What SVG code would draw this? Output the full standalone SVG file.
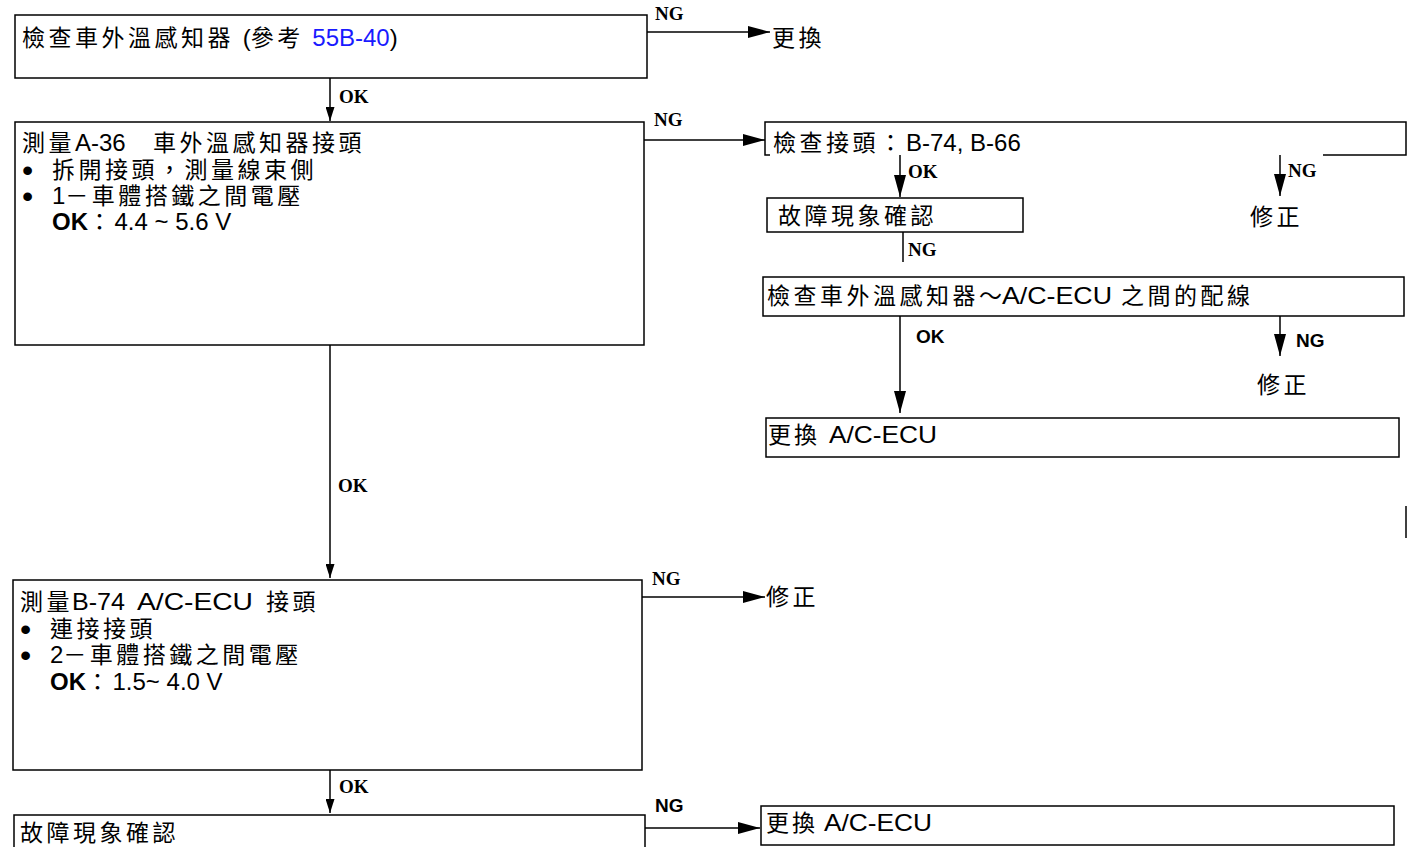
<svg xmlns="http://www.w3.org/2000/svg" width="1420" height="847" viewBox="0 0 1420 847">
<style>
.bx{fill:none;stroke:#000;stroke-width:1.5}
.ln{fill:none;stroke:#000;stroke-width:1.5}
.t{font-family:"Noto Sans CJK TC","Liberation Sans",sans-serif;font-size:23px;letter-spacing:3.5px;fill:#000}
.la{font-family:"Liberation Sans",Arial,sans-serif;font-size:24px;letter-spacing:0;fill:#000}
.lb{font-family:"Liberation Sans",Arial,sans-serif;font-size:24px;font-weight:bold;letter-spacing:0}
.bu{font-family:"Liberation Sans",Arial,sans-serif;font-size:32px;fill:#000}
.lk{fill:#1a1aff}
.sg{font-family:"Liberation Serif","Times New Roman",serif;font-size:19px;font-weight:bold;fill:#000}
.ss{font-family:"Liberation Sans",Arial,sans-serif;font-size:19px;font-weight:bold;fill:#000}
</style>
<defs>
<marker id="ah" viewBox="0 0 22 12" markerWidth="22" markerHeight="12" refX="22" refY="6" orient="auto" markerUnits="userSpaceOnUse"><path d="M0,0 L22,6 L0,12 z" fill="#000"/></marker>
<marker id="ahs" viewBox="0 0 14 9" markerWidth="14" markerHeight="9" refX="14" refY="4.5" orient="auto" markerUnits="userSpaceOnUse"><path d="M0,0 L14,4.5 L0,9 z" fill="#000"/></marker>
</defs>
<rect width="1420" height="847" fill="#fff"/>

<g id="n1">
<rect class="bx" x="15" y="15" width="632" height="63"/>
<text class="t" x="22" y="46">檢查車外溫感知器 <tspan class="la">(</tspan>參考 <tspan class="la lk">55B-40</tspan><tspan class="la">)</tspan></text>
</g>
<g id="n1ng"><text class="t" x="772" y="46">更換</text></g>

<g id="n2">
<rect class="bx" x="15" y="122" width="629" height="223"/>
<text class="t" x="22" y="151">測量<tspan class="la" x="75">A-36</tspan><tspan x="153">車外溫感知器接頭</tspan></text>
<text class="bu" x="22" y="181">•</text>
<text class="t" x="52" y="178">拆開接頭，測量線束側</text>
<text class="bu" x="22" y="207">•</text>
<text class="t" x="52" y="204"><tspan class="la">1</tspan>－車體搭鐵之間電壓</text>
<text class="t" x="52" y="230"><tspan class="lb">OK</tspan>：<tspan class="la">4.4 ~ 5.6 V</tspan></text>
</g>

<g id="n3">
<path class="bx" d="M770,155 L765,155 L765,122 L1406,122 L1406,155 L1323,155"/>
<text class="t" x="773" y="151">檢查接頭：<tspan class="la" x="906">B-74, B-66</tspan></text>
</g>
<g id="n3ng"><text class="t" x="1250" y="225">修正</text></g>

<g id="n4">
<rect class="bx" x="767" y="198" width="256" height="34"/>
<text class="t" x="778" y="224">故障現象確認</text>
</g>

<g id="n5">
<rect class="bx" x="763" y="277" width="641" height="39"/>
<text class="t" x="767" y="304">檢查車外溫感知器～<tspan class="la" x="1002" textLength="110" lengthAdjust="spacingAndGlyphs">A/C-ECU</tspan><tspan x="1121">之間的配線</tspan></text>
</g>
<g id="n5ng"><text class="t" x="1257" y="393">修正</text></g>

<g id="n6">
<rect class="bx" x="766" y="418" width="633" height="39"/>
<text class="t" x="768" y="443" style="letter-spacing:3px">更換<tspan class="la" x="829" textLength="108" lengthAdjust="spacingAndGlyphs">A/C-ECU</tspan></text>
</g>

<g id="n7">
<rect class="bx" x="13" y="580" width="629" height="190"/>
<text class="t" x="20" y="610">測量<tspan class="la" x="72" textLength="53" lengthAdjust="spacingAndGlyphs">B-74</tspan><tspan class="la" x="137" textLength="116" lengthAdjust="spacingAndGlyphs">A/C-ECU</tspan><tspan x="266">接頭</tspan></text>
<text class="bu" x="20" y="640">•</text>
<text class="t" x="50" y="637">連接接頭</text>
<text class="bu" x="20" y="666">•</text>
<text class="t" x="50" y="663"><tspan class="la">2</tspan>－車體搭鐵之間電壓</text>
<text class="t" x="50" y="690"><tspan class="lb">OK</tspan>：<tspan class="la">1.5~ 4.0 V</tspan></text>
</g>
<g id="n7ng"><text class="t" x="766" y="605">修正</text></g>

<g id="n8">
<rect class="bx" x="14" y="815" width="631" height="40"/>
<text class="t" x="20" y="841">故障現象確認</text>
</g>

<g id="n9">
<rect class="bx" x="761" y="806" width="633" height="39"/>
<text class="t" x="766" y="831" style="letter-spacing:3px">更換<tspan class="la" x="824" textLength="108" lengthAdjust="spacingAndGlyphs">A/C-ECU</tspan></text>
</g>

<g id="connectors">
<line class="ln" x1="647" y1="32" x2="770" y2="32" marker-end="url(#ah)"/>
<text class="sg" x="655" y="20">NG</text>
<line class="ln" x1="330" y1="78" x2="330" y2="121" marker-end="url(#ahs)"/>
<text class="sg" x="339" y="103">OK</text>
<line class="ln" x1="644" y1="140" x2="765" y2="140" marker-end="url(#ah)"/>
<text class="sg" x="654" y="126">NG</text>
<line class="ln" x1="900" y1="155" x2="900" y2="197" marker-end="url(#ah)"/>
<text class="sg" x="908" y="178">OK</text>
<line class="ln" x1="1280" y1="155" x2="1280" y2="196" marker-end="url(#ah)"/>
<text class="sg" x="1288" y="177">NG</text>
<line class="ln" x1="903" y1="232" x2="903" y2="262"/>
<text class="sg" x="908" y="256">NG</text>
<line class="ln" x1="900" y1="316" x2="900" y2="413" marker-end="url(#ah)"/>
<text class="ss" x="916" y="343">OK</text>
<line class="ln" x1="1280" y1="316" x2="1280" y2="356" marker-end="url(#ah)"/>
<text class="ss" x="1296" y="347">NG</text>
<line class="ln" x1="330" y1="345" x2="330" y2="578" marker-end="url(#ahs)"/>
<text class="sg" x="338" y="492">OK</text>
<line class="ln" x1="642" y1="597" x2="765" y2="597" marker-end="url(#ah)"/>
<text class="sg" x="652" y="585">NG</text>
<line class="ln" x1="330" y1="770" x2="330" y2="813" marker-end="url(#ahs)"/>
<text class="sg" x="339" y="793">OK</text>
<line class="ln" x1="645" y1="828" x2="760" y2="828" marker-end="url(#ah)"/>
<text class="ss" x="655" y="812">NG</text>
</g>
<line class="ln" x1="1406" y1="506" x2="1406" y2="538" stroke="#444"/>
</svg>
